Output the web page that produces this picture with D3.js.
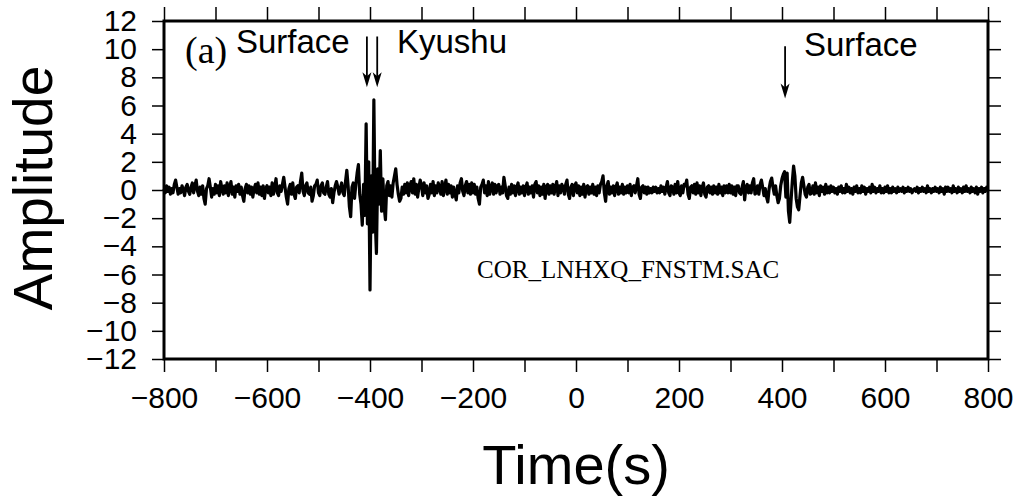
<html>
<head>
    <meta http-equiv="content-type" content="text/html; charset=UTF8">
    <script type="text/javascript" src="https://cdn.jsdelivr.net/npm/d3@7/dist/d3.min.js"></script>
    <style>
        body { margin: 0; background: #fff; }
        svg { display: block; }
    </style>
</head>
<body>

<div id="chart"></div>

<script>
    // trace header: start time and sample interval (s)
    var t0 = -800;
    var dt = 2.5;

    // amplitudes, one row per 50 s
    var amplitude = [
        0.1, -0.2, 0.3, -0.1, 0.2, -0.3, 0.1, -0.2, 0.4, 0.7, 0.2, -0.3, 0.1, -0.2, 0.3, 0.0, -0.4, 0.2, 0.4, -0.1,         // -800
        -0.3, 0.2, 0.5, -0.2, 0.3, 0.7, -0.1, -0.4, 0.2, -0.3, 0.3, -0.6, -1.0, 0.1, 0.3, 0.8, 0.2, -0.5, 0.1, -0.3,       // -750
        0.4, -0.2, 0.3, -0.4, 0.6, 0.1, -0.3, 0.3, -0.2, 0.5, -0.4, 0.2, 0.6, -0.3, 0.2, -0.5, 0.3, -0.1, 0.4, -0.3,       // -700
        0.2, -0.4, -0.8, 0.1, 0.4, -0.2, 0.3, -0.3, 0.2, -0.5, 0.1, 0.4, -0.2, 0.5, -0.3, 0.2, -0.4, 0.3, -0.6, 0.1,       // -650
        0.3, -0.2, 0.2, -0.4, 0.5, -0.3, 0.2, 0.8, -0.2, -0.4, 0.3, -0.1, 0.4, 0.9, 0.2, -0.5, -1.0, 0.1, 0.4, -0.3,       // -600
        0.5, -0.3, -0.6, 0.2, 0.3, -0.2, 0.6, 1.2, -0.1, -0.4, 0.3, 0.5, -0.2, -0.3, 0.2, -0.8, -0.4, 0.3, 0.4, 0.7,       // -550
        -0.2, -0.4, 0.3, 0.5, -0.2, -0.3, 0.2, 0.6, -0.3, -0.5, 0.1, -0.9, -0.2, 0.3, 0.6, 0.2, -0.3, 0.1, 0.5, -0.2,      // -500
        -0.4, 0.6, 1.4, 0.3, -1.2, -1.9, 0.2, 0.5, -0.6, 0.4, 1.2, 1.8, -0.3, -1.0, -2.5, 0.4, -1.8, 4.7, -2.4, 2.0,       // -450
        -7.1, 1.0, -3.0, 6.4, -2.0, -4.5, 1.5, -1.0, 2.8, -1.5, 0.8, -1.2, -2.1, 0.3, 0.6, -0.4, 0.3, -0.5, 0.5, 1.0,      // -400
        1.5, 0.4, -0.3, -0.8, -0.6, 0.2, -0.3, 0.4, -0.2, 0.5, -0.4, 0.3, 0.6, -0.2, 0.8, -0.3, 0.4, -0.5, 0.2, 0.7,       // -350
        0.3, -0.4, 0.5, -0.2, 0.3, -0.6, -0.3, 0.4, -0.2, 0.6, -0.4, 0.3, -0.2, 0.5, 0.2, -0.3, 0.6, -0.4, 0.2, 0.7,       // -300
        -0.3, 0.4, -0.2, 0.3, -0.5, 0.2, -0.3, -0.7, 0.3, -0.2, 0.5, 0.8, -0.1, -0.4, 0.3, 0.6, -0.2, 0.4, -0.3, 0.5,      // -250
        -0.2, 0.4, -0.3, 0.2, -0.6, -1.0, 0.2, 0.4, 0.7, -0.2, 0.3, -0.4, 0.6, -0.3, 0.2, 0.5, -0.3, 0.4, -0.2, 0.3,       // -200
        0.4, -0.3, 0.2, -0.2, 0.9, 0.3, -0.4, -0.6, 0.2, -0.3, 0.4, -0.2, 0.3, -0.4, 0.2, 0.5, -0.3, 0.2, -0.2, 0.3,       // -150
        -0.4, 0.2, 0.5, -0.3, 0.2, -0.2, 0.3, -0.5, 0.4, 0.6, -0.2, 0.3, -0.4, 0.2, -0.3, 0.4, -0.6, 0.2, 0.4, -0.3,       // -100
        0.3, -0.2, 0.4, -0.3, 0.2, 0.6, -0.4, 0.3, -0.2, 0.4, 0.2, -0.3, 0.4, 0.7, -0.3, -0.6, 0.2, 0.4, -0.4, 0.3,        // -50
        0.5, -0.2, 0.3, -0.4, 0.2, -0.3, 0.4, -0.5, 0.2, 0.3, -0.3, 0.2, -0.2, 0.4, -0.3, 0.2, -0.4, 0.3, -0.2, 0.4,       // 0
        0.6, 1.0, -0.2, -0.8, 0.3, 0.6, -0.3, 0.2, -0.2, 0.3, -0.4, 0.2, 0.5, -0.3, 0.2, -0.2, 0.4, -0.3, 0.2, -0.2,       // 50
        0.3, -0.2, 0.4, -0.4, 0.2, 0.3, -0.2, 0.3, 0.8, -0.3, -0.6, 0.2, 0.3, -0.2, 0.2, -0.3, 0.2, -0.2, 0.1, -0.2,       // 100
        0.2, -0.1, 0.2, -0.2, 0.1, -0.2, 0.3, -0.1, 0.2, -0.3, 0.2, 0.6, -0.2, -0.4, 0.3, 0.2, -0.3, 0.4, -0.2, 0.6,       // 150
        -0.2, -0.4, 0.3, -0.2, 0.4, 0.3, 0.7, -0.3, -0.6, 0.2, 0.3, -0.2, 0.4, -0.3, 0.5, -0.2, 0.3, -0.4, 0.2, 0.5,       // 200
        -0.3, -0.5, 0.2, 0.3, -0.2, 0.2, -0.3, 0.3, -0.2, 0.2, -0.3, 0.4, -0.2, 0.2, -0.4, 0.3, -0.2, 0.3, -0.2, 0.4,      // 250
        -0.2, 0.3, -0.3, 0.2, -0.4, 0.3, 0.3, -0.2, -0.3, 0.2, 0.6, -0.7, 0.2, 0.4, -0.2, 0.3, -0.2, 0.5, 0.8, -0.3,       // 300
        -0.2, 0.3, -0.3, 0.4, 0.7, 0.2, -0.4, 0.1, -0.5, -0.85, 0.1, 0.6, 0.85, 0.2, -0.3, 0.3, -0.4, -0.9, -0.6, 0.3,     // 350
        0.8, 1.1, 1.3, -0.5, 1.2, -1.5, -2.3, -0.8, 0.6, 1.7, 1.0, -0.6, -1.2, -1.4, -0.4, 0.5, 0.9, 0.3, -0.3, -0.5,      // 400
        0.2, 0.4, -0.3, -0.2, 0.3, -0.3, 0.5, -0.2, 0.2, -0.4, 0.3, -0.1, 0.2, -0.3, 0.4, -0.2, 0.2, -0.2, 0.3, -0.1,      // 450
        0.2, -0.2, 0.1, -0.3, 0.2, -0.1, 0.3, -0.2, 0.1, -0.2, 0.4, -0.1, 0.2, -0.2, 0.1, -0.3, 0.2, -0.1, 0.3, -0.2,      // 500
        0.1, -0.2, 0.3, -0.1, 0.2, -0.3, 0.1, -0.1, 0.2, -0.2, 0.4, -0.1, 0.2, -0.2, 0.1, -0.1, 0.3, -0.2, 0.1, -0.2,      // 550
        0.2, -0.1, 0.3, -0.2, 0.1, -0.2, 0.2, -0.1, 0.1, -0.2, 0.2, -0.1, 0.1, -0.1, 0.2, -0.2, 0.1, -0.1, 0.2, -0.1,      // 600
        0.1, -0.2, 0.0, 0.1, -0.1, 0.2, -0.2, 0.1, -0.1, 0.2, -0.1, 0.1, -0.2, 0.3, -0.1, 0.1, -0.2, 0.1, -0.1, 0.2,       // 650
        -0.1, 0.1, -0.2, 0.2, -0.1, 0.1, -0.3, 0.2, -0.1, 0.2, -0.1, 0.1, -0.2, 0.3, -0.1, 0.1, -0.2, 0.2, -0.1, 0.1,      // 700
        -0.2, 0.2, -0.1, 0.3, -0.1, 0.1, -0.2, 0.2, -0.1, 0.1, -0.2, 0.2, -0.3, 0.1, -0.1, 0.2, -0.2, 0.1, -0.1, 0.2,      // 750
        -0.1                                                                                                           // 800
    ];

    var xTicks = [-800, -700, -600, -500, -400, -300, -200, -100, 0, 100, 200, 300, 400, 500, 600, 700, 800];
    var yTicks = [-12, -10, -8, -6, -4, -2, 0, 2, 4, 6, 8, 10, 12];

    // phase markers: arrow time, arrow top / tip amplitude
    var arrows = [
        { t: -406, top: 10.9, tip: 7.3 },
        { t: -386, top: 10.9, tip: 7.3 },
        { t: 406, top: 10.2, tip: 6.5 }
    ];

    // view settings ("top" is taken by window.top, so use plot* names)
    var width = 1016;
    var height = 497;
    var plotLeft = 164, plotRight = 988, plotTop = 21, plotBottom = 359;
    var sans = "'Liberation Sans', Arial, Helvetica, sans-serif";
    var serif = "'Liberation Serif', 'Times New Roman', serif";

    var data = amplitude.map(function(a, i) { return { t: t0 + i * dt, a: a }; });

    var x = d3.scaleLinear().domain([-800, 800]).range([plotLeft, plotRight]);
    var y = d3.scaleLinear().domain([-12, 12]).range([plotBottom, plotTop]);

    var svg = d3.select("#chart")
        .append("svg")
        .attr("width", width)
        .attr("height", height);

    function fmt(d) { return d < 0 ? "\u2212" + Math.abs(d) : "" + d; }

    // axes
    var gx = svg.append("g")
        .attr("transform", "translate(0," + plotBottom + ")")
        .call(d3.axisBottom(x).tickValues(xTicks).tickSize(13).tickPadding(15)
            .tickFormat(function(d) { return d % 200 === 0 ? fmt(d) : ""; }));

    var gxTop = svg.append("g")
        .attr("transform", "translate(0," + plotTop + ")")
        .call(d3.axisTop(x).tickValues(xTicks).tickSize(14).tickFormat(""));

    var gy = svg.append("g")
        .attr("transform", "translate(" + plotLeft + ",0)")
        .call(d3.axisLeft(y).tickValues(yTicks).tickSize(12).tickPadding(15).tickFormat(fmt));

    var gyRight = svg.append("g")
        .attr("transform", "translate(" + plotRight + ",0)")
        .call(d3.axisRight(y).tickValues(yTicks).tickSize(13).tickFormat(""));

    [gx, gxTop, gy, gyRight].forEach(function(g) {
        g.select(".domain").remove();
        g.selectAll(".tick line").attr("stroke", "#000").attr("stroke-width", 1.5);
        g.selectAll(".tick text")
            .attr("fill", "#000")
            .attr("font-family", sans)
            .attr("font-size", "30px");
    });

    // waveform
    var line = d3.line()
        .x(function(d) { return x(d.t); })
        .y(function(d) { return y(d.a); });

    svg.append("path")
        .datum(data)
        .attr("d", line)
        .attr("fill", "none")
        .attr("stroke", "#000")
        .attr("stroke-width", 3.2)
        .attr("stroke-linejoin", "round");

    // frame
    svg.append("rect")
        .attr("x", plotLeft)
        .attr("y", plotTop)
        .attr("width", plotRight - plotLeft)
        .attr("height", plotBottom - plotTop)
        .attr("fill", "none")
        .attr("stroke", "#000")
        .attr("stroke-width", 3);

    // arrows
    arrows.forEach(function(a) {
        var ax = x(a.t), y0 = y(a.top), y1 = y(a.tip);
        svg.append("line")
            .attr("x1", ax).attr("x2", ax)
            .attr("y1", y0).attr("y2", y1 - 6)
            .attr("stroke", "#000")
            .attr("stroke-width", 1.8);
        svg.append("path")
            .attr("d", "M" + (ax - 4.5) + "," + (y1 - 15) + "L" + ax + "," + (y1 - 11) + "L" + (ax + 4.5) + "," + (y1 - 15) + "L" + ax + "," + y1 + "Z")
            .attr("fill", "#000");
    });

    // labels
    svg.append("text")
        .attr("x", 185).attr("y", 63)
        .attr("font-family", serif)
        .attr("font-size", "38px")
        .text("(a)");

    svg.append("text")
        .attr("x", 236).attr("y", 53)
        .attr("font-family", sans)
        .attr("font-size", "33px")
        .text("Surface");

    svg.append("text")
        .attr("x", 397).attr("y", 53)
        .attr("font-family", sans)
        .attr("font-size", "33px")
        .text("Kyushu");

    svg.append("text")
        .attr("x", 804).attr("y", 56)
        .attr("font-family", sans)
        .attr("font-size", "33px")
        .text("Surface");

    svg.append("text")
        .attr("x", 477).attr("y", 278)
        .attr("font-family", serif)
        .attr("font-size", "25px")
        .text("COR_LNHXQ_FNSTM.SAC");

    // axis titles
    svg.append("text")
        .attr("x", (plotLeft + plotRight) / 2).attr("y", 484)
        .attr("text-anchor", "middle")
        .attr("font-family", sans)
        .attr("font-size", "56px")
        .text("Time(s)");

    svg.append("text")
        .attr("transform", "translate(52," + ((plotTop + plotBottom) / 2 - 2) + ") rotate(-90)")
        .attr("text-anchor", "middle")
        .attr("font-family", sans)
        .attr("font-size", "55px")
        .text("Amplitude");
</script>

</body>
</html>
